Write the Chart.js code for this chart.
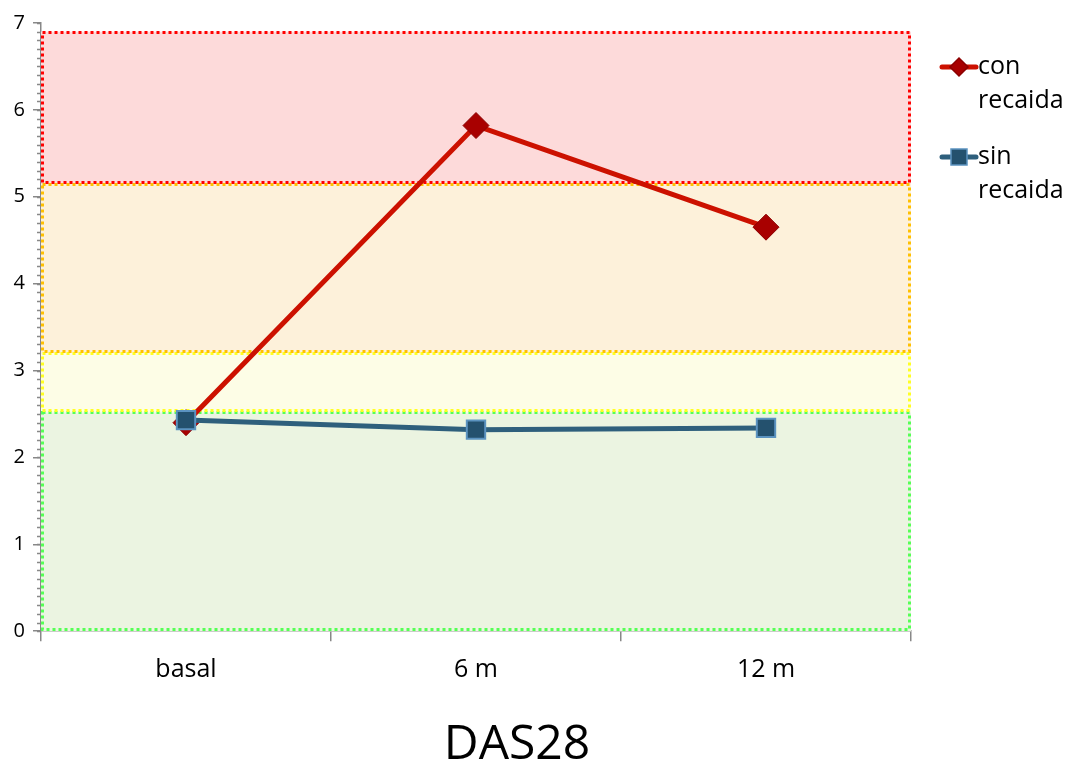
<!DOCTYPE html>
<html>
<head>
<meta charset="utf-8">
<script src="https://cdn.jsdelivr.net/npm/chart.js@4"></script>
<style>
  body { margin: 0; background: #fff; }
  canvas { display: block; }
</style>
</head>
<body>
<canvas id="chart" width="1070" height="766"></canvas>
<script>
const labels = ["basal", "6 m", "12 m"];
const conRecaida = [2.4, 5.82, 4.65];
const sinRecaida = [2.43, 2.32, 2.34];
const seriesNames = [["con", "recaida"], ["sin", "recaida"]];

// DAS28 activity zones
const bandFrom = [0, 2.52, 3.2, 5.15];
const bandTo = [2.52, 3.2, 5.15, 6.9];
const bandFill = ["#ebf4e1", "#fdfde6", "#fdf1da", "#fddada"];
const bandEdge = ["#55ff55", "#ffff22", "#ffc000", "#ff0000"];

const FONT = "'Open Sans', sans-serif";

const bands = {
  id: "bands",
  beforeDatasetsDraw(chart) {
    const { ctx, chartArea, scales } = chart;
    const y = scales.y;
    ctx.save();
    bandFrom.forEach((v, i) => {
      const top = y.getPixelForValue(bandTo[i]);
      const bot = y.getPixelForValue(v);
      ctx.fillStyle = bandFill[i];
      ctx.fillRect(chartArea.left, top, chartArea.right - chartArea.left, bot - top);
    });
    ctx.lineWidth = 3;
    ctx.setLineDash([3, 3]);
    bandFrom.forEach((v, i) => {
      const top = Math.round(y.getPixelForValue(bandTo[i])) + 0.5;
      const bot = Math.round(y.getPixelForValue(v)) - 1.5;
      ctx.strokeStyle = bandEdge[i];
      ctx.strokeRect(chartArea.left + 1.5, top, chartArea.right - chartArea.left - 3, bot - top);
    });
    ctx.restore();
  }
};

const minorTicks = {
  id: "minorTicks",
  afterDraw(chart) {
    const { ctx, scales } = chart;
    const y = scales.y;
    ctx.save();
    ctx.strokeStyle = "#888";
    ctx.lineWidth = 1.5;
    ctx.beginPath();
    for (let v = 0; v <= 7.001; v += 0.1) {
      const p = Math.round(y.getPixelForValue(v)) + 0.5;
      ctx.moveTo(y.right - 4, p);
      ctx.lineTo(y.right, p);
    }
    ctx.stroke();
    ctx.restore();
  }
};

const sideLegend = {
  id: "sideLegend",
  afterDraw(chart) {
    const { ctx } = chart;
    const x0 = 942, ys = [67, 157];
    ctx.save();
    chart.data.datasets.forEach((ds, i) => {
      const yy = ys[i];
      ctx.strokeStyle = ds.borderColor;
      ctx.lineWidth = 5;
      ctx.lineCap = "round";
      ctx.beginPath();
      ctx.moveTo(x0, yy);
      ctx.lineTo(x0 + 34, yy);
      ctx.stroke();
      ctx.fillStyle = ds.pointBackgroundColor;
      ctx.strokeStyle = ds.pointBorderColor;
      ctx.lineWidth = 1.5;
      if (i === 0) {
        ctx.beginPath();
        ctx.moveTo(x0 + 17, yy - 9);
        ctx.lineTo(x0 + 26, yy);
        ctx.lineTo(x0 + 17, yy + 9);
        ctx.lineTo(x0 + 8, yy);
        ctx.closePath();
        ctx.fill();
        ctx.stroke();
      } else {
        ctx.fillRect(x0 + 9, yy - 8, 16, 16);
        ctx.strokeRect(x0 + 9, yy - 8, 16, 16);
      }
      ctx.fillStyle = "#000";
      ctx.font = "25px " + FONT;
      ctx.textBaseline = "middle";
      ctx.fillText(seriesNames[i][0], x0 + 36, yy);
      ctx.fillText(seriesNames[i][1], x0 + 36, yy + 34);
    });
    ctx.restore();
  }
};

new Chart(document.getElementById("chart"), {
  type: "line",
  data: {
    labels,
    datasets: [
      {
        label: "con recaida",
        data: conRecaida,
        borderColor: "#cc1100",
        borderWidth: 5,
        pointStyle: "rectRot",
        pointRadius: 13,
        pointBackgroundColor: "#a80000",
        pointBorderColor: "#8c0000",
        pointBorderWidth: 1,
        order: 2
      },
      {
        label: "sin recaida",
        data: sinRecaida,
        borderColor: "#2e5f7c",
        borderWidth: 5,
        pointStyle: "rect",
        pointRadius: 13,
        pointBackgroundColor: "#24516e",
        pointBorderColor: "#5b93c0",
        pointBorderWidth: 2,
        order: 1
      }
    ]
  },
  options: {
    responsive: false,
    animation: false,
    layout: { padding: { top: 23, right: 36, left: 0, bottom: 0 } },
    plugins: {
      legend: { display: false },
      tooltip: { enabled: false },
      title: {
        display: true,
        text: "DAS28",
        position: "bottom",
        color: "#000",
        font: { family: FONT, size: 48, weight: "normal", lineHeight: 0.85 },
        padding: { top: 26, bottom: 0 }
      }
    },
    scales: {
      x: {
        offset: true,
        grid: { offset: true, drawOnChartArea: false, tickLength: 10, color: "#888", lineWidth: 1.5 },
        border: { color: "#888", width: 1.5 },
        ticks: { color: "#000", font: { family: FONT, size: 25 }, padding: 14 }
      },
      y: {
        min: 0,
        max: 7,
        ticks: { stepSize: 1, color: "#000", font: { family: FONT, size: 20 }, padding: 8 },
        grid: { drawOnChartArea: false, tickLength: 8, color: "#888", lineWidth: 1.5 },
        border: { color: "#888", width: 1.5 },
        afterFit(s) { s.width = 41; }
      },
      // empty right-hand strip that holds the legend
      side: {
        position: "right",
        display: true,
        ticks: { display: false },
        grid: { display: false },
        border: { display: false },
        afterFit(s) { s.width = 123; }
      }
    }
  },
  plugins: [bands, minorTicks, sideLegend]
});
</script>
</body>
</html>
